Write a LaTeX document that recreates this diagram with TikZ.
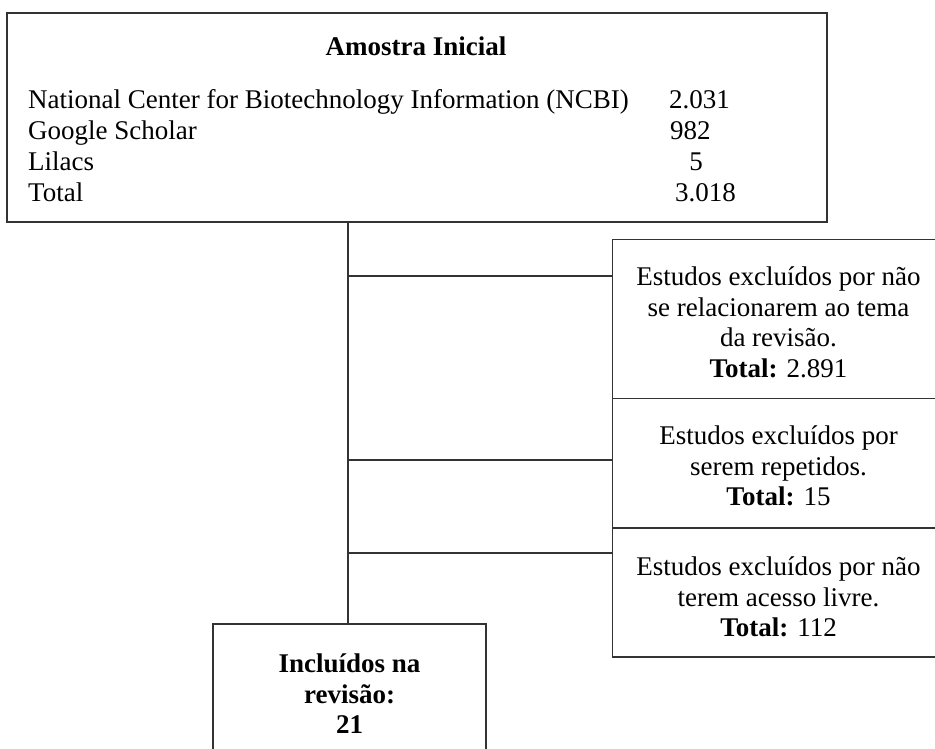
\documentclass[tikz,border=0pt]{standalone}
\usepackage{fontspec}
\setmainfont{Liberation Serif}
\begin{document}
\begin{tikzpicture}[x=1pt,y=-1pt]
\tikzset{
  box/.style={draw=black!80, line width=1.3pt, inner sep=0pt},
  txt/.style={inner sep=0pt, align=center, font=\fontsize{27}{30.5}\selectfont},
  conn/.style={draw=black!80, line width=1.3pt}
}
\useasboundingbox (0,0) rectangle (935,749);
\clip (0,0) rectangle (935,749);
\fill[white] (0,0) rectangle (935,749);

% top box
\node[box, minimum width=820pt, minimum height=209pt] (top) at (417,117.5) {};
\node[txt, font=\fontsize{27}{30.5}\selectfont\bfseries] (title) at (416,46) {Amostra Inicial};
\node[txt, anchor=base west] (r1) at (28,109) {National Center for Biotechnology Information (NCBI)};
\node[txt, anchor=base west] (r2) at (28,140) {Google Scholar};
\node[txt, anchor=base west] (r3) at (28,171) {Lilacs};
\node[txt, anchor=base west] (r4) at (28,202) {Total};
\node[txt, anchor=base west] (n1) at (669,109) {2.031};
\node[txt, anchor=base west] (n2) at (670,140) {982};
\node[txt, anchor=base] (n3) at (696,171) {5};
\node[txt, anchor=base west] (n4) at (675,202) {3.018};

% right boxes
\node[box, minimum width=333pt, minimum height=159pt] (e1) at (779,319) {};
\node[box, minimum width=333pt, minimum height=129pt] (e2) at (779,463) {};
\node[box, minimum width=333pt, minimum height=129pt] (e3) at (779,592.5) {};
\node[txt] (e1t) at (778.5,322.5)
  {Estudos excluídos por não\\se relacionarem ao tema\\da revisão.\\\textbf{Total:} 2.891};
\node[txt] (e2t) at (778.5,466)
  {Estudos excluídos por\\serem repetidos.\\\textbf{Total:} 15};
\node[txt] (e3t) at (778.5,597)
  {Estudos excluídos por não\\terem acesso livre.\\\textbf{Total:} 112};

% bottom box
\node[box, minimum width=273pt, minimum height=180pt] (inc) at (349.5,714) {};
\node[txt, font=\fontsize{27}{30.5}\selectfont\bfseries] (inct) at (349.5,694)
  {Incluídos na\\revisão:\\21};

% connectors
\coordinate (vx) at (348,0);
\draw[conn] (top.south -| vx) -- (inc.north -| vx);
\coordinate (j1) at (348,276);
\coordinate (j2) at (348,460);
\coordinate (j3) at (348,553);
\draw[conn] (j1) -- (j1 -| e1.west);
\draw[conn] (j2) -- (j2 -| e2.west);
\draw[conn] (j3) -- (j3 -| e3.west);
\end{tikzpicture}
\end{document}
